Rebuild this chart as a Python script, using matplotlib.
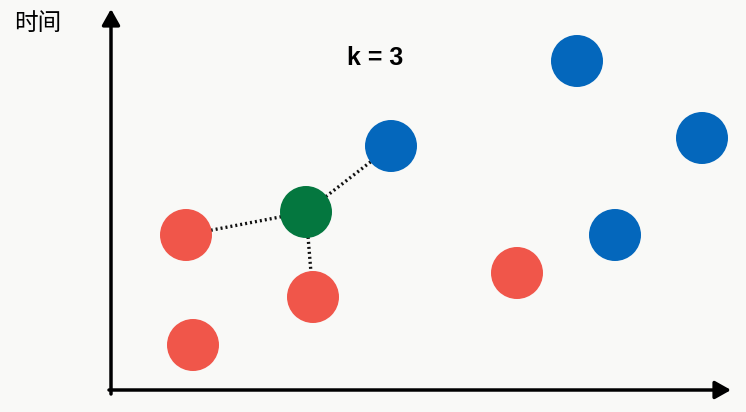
import matplotlib
matplotlib.use("Agg")
import matplotlib.pyplot as plt
from matplotlib.patches import Circle

# ── data (pixel-space positions) ─────────────────────────────────────────────
red_x = [186, 313, 193, 517]
red_y = [235, 297, 345, 273]
blue_x = [391, 577, 702, 615]
blue_y = [146, 61, 138, 235]
query_x, query_y = 306, 212
# indices of the k nearest neighbours: (colour, index)
neighbours = [("red", 0), ("red", 1), ("blue", 0)]
k_label = "k = 3"
y_label = "时间"

BG = "#f9f9f7"
RED = "#f0564a"
BLUE = "#0467bc"
GREEN = "#04773f"
R = 26

fig = plt.figure(figsize=(7.46, 4.12), dpi=100, facecolor=BG)
ax = fig.add_axes([0, 0, 1, 1], facecolor=BG)
ax.set_xlim(0, 746)
ax.set_ylim(412, 0)
ax.set_aspect("equal")
ax.axis("off")

# axes arrows
arrow = dict(arrowstyle="-|>,head_length=0.8,head_width=0.45",
             lw=2.5, color="black", mutation_scale=12,
             shrinkA=0, shrinkB=0)
ax.annotate("", xy=(731, 390), xytext=(109, 390), arrowprops=arrow)
ax.annotate("", xy=(111, 9), xytext=(111, 394), arrowprops=arrow)

# dotted lines to neighbours
pts = {"red": (red_x, red_y), "blue": (blue_x, blue_y)}
for col, i in neighbours:
    xs, ys = pts[col]
    ax.plot([query_x, xs[i]], [query_y, ys[i]], color="#111111",
            lw=2.4, ls=(0, (0.6, 0.9)), zorder=1)

for x, y in zip(red_x, red_y):
    ax.add_patch(Circle((x, y), R, color=RED, zorder=3, lw=0))
for x, y in zip(blue_x, blue_y):
    ax.add_patch(Circle((x, y), R, color=BLUE, zorder=3, lw=0))
ax.add_patch(Circle((query_x, query_y), R, color=GREEN, zorder=3, lw=0))

ax.text(375, 58, k_label, fontsize=18, fontweight="bold",
        family=["Liberation Sans", "DejaVu Sans"], ha="center", va="center")
ax.text(38, 23, y_label, fontsize=17,
        family=["Noto Sans CJK SC", "DejaVu Sans"], ha="center", va="center")

fig.savefig("out.png", dpi=100, facecolor=BG)
